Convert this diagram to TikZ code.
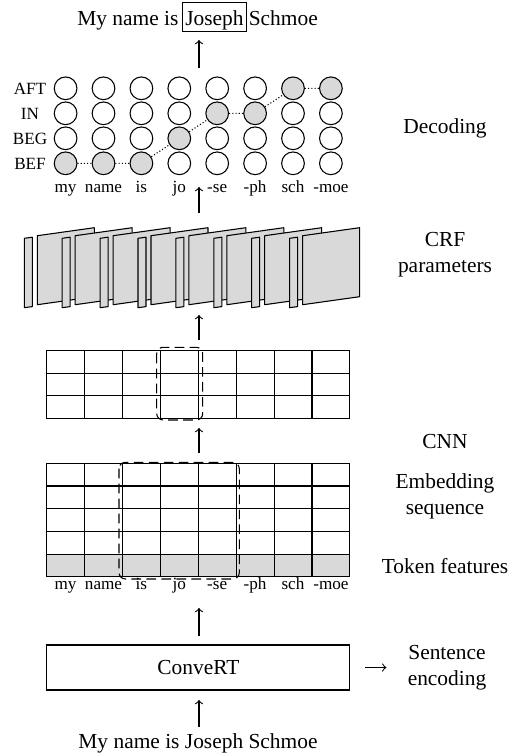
\documentclass[tikz,border=0pt]{standalone}
\usepackage{fontspec}
\setmainfont{Liberation Serif}
\usepackage{tikz}
\usetikzlibrary{positioning}

\definecolor{cellgray}{gray}{0.85}

\tikzstyle{state} = [circle, draw, minimum size=10.6pt, inner sep=0pt]
\tikzstyle{word} = [anchor=base, inner sep=1pt, font=\footnotesize]
\tikzstyle{side} = [align=center]
\tikzstyle{block} = [rectangle, draw, minimum width=141.6pt, minimum height=21pt]
\tikzstyle{line} = [draw, ->]
\tikzstyle{viterbi} = [draw, densely dotted]
\tikzstyle{plane} = [draw, fill=cellgray, line join=round]
\tikzstyle{window} = [draw, dash pattern=on 4.5pt off 2.5pt, rounded corners=3pt]

\begin{document}
\begin{tikzpicture}[x=0.467pt, y=-0.467pt, line width=0.5pt]
  \useasboundingbox (0,0) rectangle (513,756);

  % Output sentence
  \node [draw, inner xsep=1.5pt, inner ysep=1.2pt, text height=9.5pt, text depth=2pt] (joseph) at (214.5,17) {Joseph};
  \node [anchor=base east, inner xsep=1.2pt] (out-left) at (joseph.base west) {My name is};
  \node [anchor=base west, inner xsep=0.4pt] (out-right) at (joseph.base east) {Schmoe};

  % Decoding lattice
  \foreach \r/\name/\ry/\lo/\hi in {aft/AFT/88.3/7/8, in/IN/113.3/5/6, beg/BEG/138.3/4/4, bef/BEF/163.3/1/3} {
    \node [word] (lab-\r) at (30,\ry+5.7) {\name};
    \foreach \i in {1,...,8} {
      \pgfmathtruncatemacro\f{and(\i>=\lo,\i<=\hi)*100}
      \node [state, fill=cellgray!\f] (\r\i) at (27.7+37.9*\i,\ry) {};
    }
  }
  \path [viterbi] (bef1) -- (bef2) -- (bef3) -- (beg4) -- (in5) -- (in6) -- (aft7) -- (aft8);

  % Token labels
  \foreach \w [count=\i] in {my,name,is,jo,-se,-ph,sch,-moe} {
    \node [word] (top\i) at (27.7+37.9*\i,192) {\w};
    \node [word] (tok\i) at (27.7+37.9*\i,589) {\w};
  }

  % CRF parameters
  \foreach \i in {0,...,7} {
    \pgfmathsetmacro\px{24.3+37.9*\i}
    \path [plane] (\px,238.3) -- ++(8,-1.1) -- ++(0,69.4) -- (\px,307.7) -- cycle;
    \path [plane] (\px+13,235.7) -- ++(57,-8) -- ++(0,69) -- (\px+13,304.7) -- cycle;
  }

  % CNN and embedding grids
  \foreach \c in {0,...,7} {
    \foreach \r in {0,1,2}
      \draw (46.7+37.9*\c,350.7+22.6*\r) rectangle ++(37.9,22.6);
    \foreach \r in {0,...,3}
      \draw (46.7+37.9*\c,463.3+22.7*\r) rectangle ++(37.9,22.7);
    \draw [fill=cellgray] (46.7+37.9*\c,554.1) rectangle ++(37.9,22.7);
  }
  \draw [window] (156.7,347.3) rectangle (202.7,420);
  \draw [window] (119,462.3) rectangle (239.3,579);

  % Place nodes
  \node [block] (convert) at (198.35,667.5) {ConveRT};
  \node [side] (sentence) at (447,667.5) {Sentence\\encoding};
  \node (input) at (198,743) {My name is Joseph Schmoe};
  \node [side] (decoding) at (445,128) {Decoding};
  \node [side] (crf) at (445,254.5) {CRF\\parameters};
  \node [side] (cnn) at (445,442) {CNN};
  \node [side] (embedding) at (445,496.5) {Embedding\\sequence};
  \node [side] (features) at (445,566) {Token features};

  % Draw edges
  \foreach \n/\from/\to in {a/727/700, b/636/608, c/453/428, d/340/315, e/213/187, f/68/40} {
    \coordinate (\n-tail) at (199,\from);
    \coordinate (\n-head) at (199,\to);
    \path [line] (\n-tail) -- (\n-head);
  }
  \path [line, shorten <=7pt, shorten >=6.4pt] (convert.east) -- (sentence.west);
\end{tikzpicture}
\end{document}
